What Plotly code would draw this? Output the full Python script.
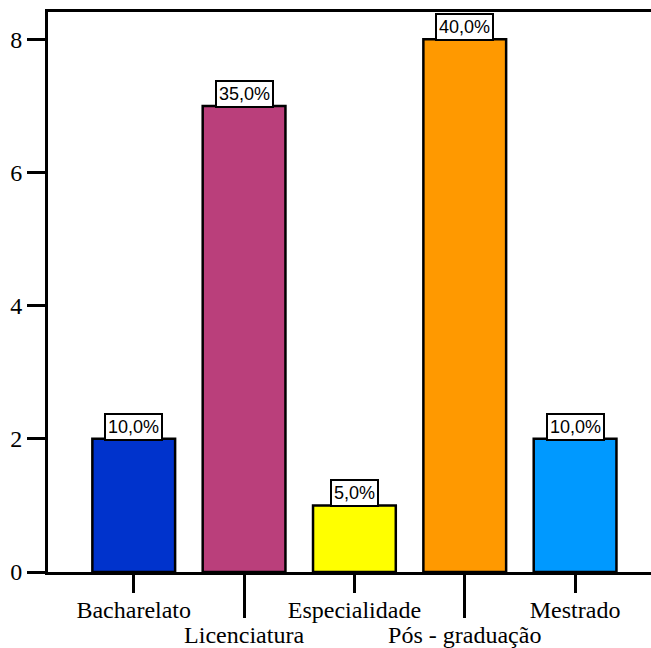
import plotly.graph_objects as go

# Highest qualification of respondents (counts and share of total)
categories = ["Bacharelato", "Licenciatura", "Especialidade", "Pós - graduação", "Mestrado"]
counts = [2, 7, 1, 8, 2]
shares = ["10,0%", "35,0%", "5,0%", "40,0%", "10,0%"]
colors = ["#0033CC", "#BA3F7B", "#FFFF00", "#FF9900", "#0099FF"]
y_ticks = [0, 2, 4, 6, 8]

x_idx = list(range(len(categories)))
x_range = [-0.777, 4.688]
serif = "Liberation Serif"
sans = "Liberation Sans"

fig = go.Figure()
fig.add_trace(go.Bar(
    x=x_idx, y=counts, width=0.75,
    marker=dict(color=colors, line=dict(color="black", width=2.5)),
    hoverinfo="skip", showlegend=False,
))

# Percentage labels in boxes on top of each bar
for i, (c, s) in enumerate(zip(counts, shares)):
    fig.add_annotation(
        x=i, y=c, text=s, showarrow=False, yanchor="bottom", yshift=-2,
        font=dict(family=sans, size=18, color="black"),
        bgcolor="white", bordercolor="black", borderwidth=2, borderpad=2,
    )

# Even-position labels with short ticks, odd-position labels with long ticks (staggered)
even = [i for i in x_idx if i % 2 == 0]
odd = [i for i in x_idx if i % 2 == 1]

fig.update_layout(
    width=651, height=648,
    margin=dict(l=48, r=0, t=12, b=76, autoexpand=False),
    plot_bgcolor="white", paper_bgcolor="white",
    bargap=0.25,
    xaxis=dict(
        range=x_range, tickmode="array", tickvals=even,
        ticktext=[categories[i] for i in even],
        ticks="outside", ticklen=18, tickwidth=2.5, tickcolor="black",
        ticklabelstandoff=-4,
        showline=True, linecolor="black", linewidth=3, mirror=True,
        showgrid=False, zeroline=False, automargin=False,
        tickfont=dict(family=serif, size=24, color="black"),
    ),
    xaxis2=dict(
        range=x_range, overlaying="x", anchor="y", side="bottom",
        tickmode="array", tickvals=odd,
        ticktext=[categories[i] for i in odd],
        ticks="outside", ticklen=45, tickwidth=2.5, tickcolor="black",
        ticklabelstandoff=-4,
        showline=False, showgrid=False, zeroline=False, automargin=False,
        tickfont=dict(family=serif, size=24, color="black"),
    ),
    yaxis=dict(
        range=[0, 8.41], tickmode="array", tickvals=y_ticks,
        ticks="outside", ticklen=18, tickwidth=2.5, tickcolor="black",
        showline=True, linecolor="black", linewidth=3,
        showgrid=False, zeroline=False, automargin=False,
        tickfont=dict(family=serif, size=24, color="black"),
    ),
)

# Invisible trace so the second x axis is rendered
fig.add_trace(go.Scatter(x=[None], y=[None], xaxis="x2", yaxis="y", showlegend=False, hoverinfo="skip"))

fig.write_html("out.html")
